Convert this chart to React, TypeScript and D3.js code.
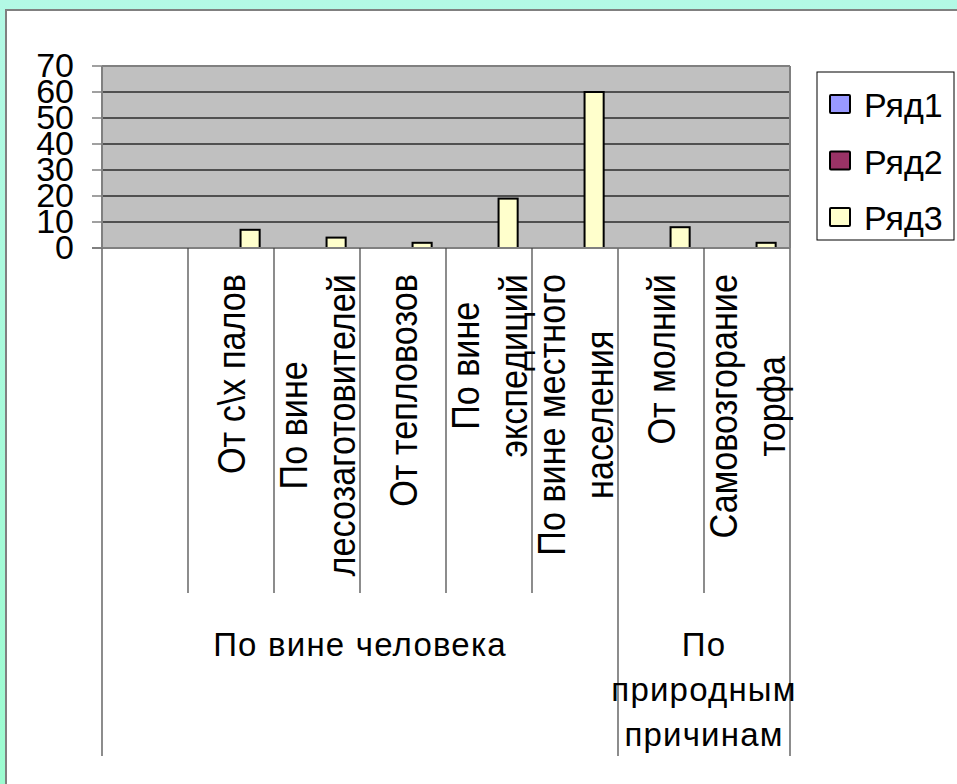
import React from "react";
import * as d3 from "d3";

const categoryLabels: string[][] = [
  [""],
  ["От с\\х палов"],
  ["По вине", "лесозаготовителей"],
  ["От тепловозов"],
  ["По вине", "экспедиций"],
  ["По вине местного", "населения"],
  ["От молний"],
  ["Самовозгорание", "торфа"],
];
const groupLabels: string[][] = [["По вине человека"], ["По", "природным", "причинам"]];
const groupSizes: number[] = [6, 2];

const seriesNames: string[] = ["Ряд1", "Ряд2", "Ряд3"];
const seriesColors: string[] = ["#9999ff", "#993366", "#ffffcc"];
const series1: (number | null)[] = [null, null, null, null, null, null, null, null];
const series2: (number | null)[] = [null, null, null, null, null, null, null, null];
const series3: (number | null)[] = [null, 7, 4, 2, 19, 60, 8, 2];
const yTicks: number[] = [0, 10, 20, 30, 40, 50, 60, 70];

const W = 957;
const H = 784;
const FONT = "'Liberation Sans', Arial, sans-serif";

let ctx: CanvasRenderingContext2D | null = null;
function measure(text: string, size: number): number {
  if (!ctx) {
    const c = document.createElement("canvas");
    ctx = c.getContext("2d");
  }
  if (!ctx) return text.length * size * 0.55;
  ctx.font = `${size}px ${FONT}`;
  return ctx.measureText(text).width;
}

export default function App() {
  const plot = { left: 102, right: 790, top: 66, bottom: 248 };
  const catIdx = categoryLabels.map((_, i) => i);
  const x = d3.scaleBand<number>().domain(catIdx).range([plot.left, plot.right]).padding(0);
  const bw = x.bandwidth();
  const gap = (bw * 1.5) / 4.5;
  const x1 = d3.scaleBand<number>().domain([0, 1, 2]).range([gap / 2, bw - gap / 2]).padding(0);
  const y = d3.scaleLinear().domain([0, 70]).range([plot.bottom, plot.top]);
  const allSeries = [series1, series2, series3];

  const innerBottom = 593;
  const outerBottom = 756;
  const labelTop = 274;
  const rotSize = 38;
  const rotSquash = 0.9;
  const rotLineGap = 48;

  const groupStarts: number[] = [];
  let acc = 0;
  groupSizes.forEach((s) => {
    groupStarts.push(acc);
    acc += s;
  });
  const groupBoundaryIdx = new Set<number>([...groupStarts, acc]);
  const boundaries = d3.range(categoryLabels.length + 1);

  const legendRows = seriesNames.map((n, i) => ({ n, c: seriesColors[i], cy: 104 + i * 56.5 }));

  return (
    <svg
      width={W}
      height={H}
      style={{ position: "absolute", left: 0, top: 0 }}
      fontFamily={FONT}
    >
      <defs>
        <linearGradient id="bg" x1="0" y1="0" x2="0" y2="1">
          <stop offset="0" stopColor="#b3f9e5" />
          <stop offset="1" stopColor="#9cfcd0" />
        </linearGradient>
      </defs>
      <rect x={0} y={0} width={W} height={H} fill="url(#bg)" />
      <rect x={6} y={10} width={W} height={H} fill="#ffffff" stroke="#808080" strokeWidth={2} />

      {/* plot area */}
      <rect
        x={plot.left}
        y={plot.top}
        width={plot.right - plot.left}
        height={plot.bottom - plot.top}
        fill="#c0c0c0"
      />
      {yTicks
        .filter((t) => t > 0 && t < 70)
        .map((t) => (
          <line
            key={"g" + t}
            x1={plot.left}
            x2={plot.right}
            y1={y(t)}
            y2={y(t)}
            stroke="#2b2b2b"
            strokeWidth={1.4}
          />
        ))}
      <line x1={plot.left} x2={plot.right} y1={plot.top} y2={plot.top} stroke="#808080" strokeWidth={2} />
      <line x1={plot.right} x2={plot.right} y1={plot.top} y2={plot.bottom} stroke="#808080" strokeWidth={2} />

      {/* bars */}
      {allSeries.map((vals, si) =>
        vals.map((v, ci) =>
          v == null ? null : (
            <rect
              key={`b${si}-${ci}`}
              x={(x(ci) as number) + (x1(si) as number)}
              y={y(v)}
              width={x1.bandwidth()}
              height={y(0) - y(v)}
              fill={seriesColors[si]}
              stroke="#000"
              strokeWidth={2}
            />
          )
        )
      )}

      {/* y axis */}
      <line x1={plot.left} x2={plot.left} y1={plot.top} y2={plot.bottom} stroke="#808080" strokeWidth={2} />
      {yTicks.map((t) => (
        <g key={"t" + t}>
          <line x1={plot.left - 10} x2={plot.left} y1={y(t)} y2={y(t)} stroke="#808080" strokeWidth={1.5} />
          <text x={74} y={y(t) + 10.5} textAnchor="end" fontSize={34} fill="#000">
            {t}
          </text>
        </g>
      ))}
      <line x1={plot.left - 10} x2={plot.right} y1={plot.bottom} y2={plot.bottom} stroke="#808080" strokeWidth={2} />

      {/* category dividers */}
      {boundaries.map((b) => {
        const bx = b < categoryLabels.length ? (x(b) as number) : plot.right;
        const outer = groupBoundaryIdx.has(b);
        return (
          <line
            key={"d" + b}
            x1={bx}
            x2={bx}
            y1={plot.bottom}
            y2={outer ? outerBottom : innerBottom}
            stroke={outer ? "#707070" : "#404040"}
            strokeWidth={outer ? 1.6 : 1.2}
          />
        );
      })}

      {/* rotated category labels */}
      {categoryLabels.map((lines, ci) => {
        const cx = (x(ci) as number) + bw / 2;
        const maxLen = (d3.max(lines, (l) => measure(l, rotSize)) || 0) * rotSquash;
        const cy = labelTop + maxLen / 2;
        return lines.map((l, li) => {
          const lineCenter = cx + (li - (lines.length - 1) / 2) * rotLineGap;
          const bx = lineCenter + 14;
          return (
            <text
              key={`c${ci}-${li}`}
              transform={`translate(${bx},${cy}) rotate(-90) scale(${rotSquash},1)`}
              textAnchor="middle"
              fontSize={rotSize}
              fill="#000"
            >
              {l}
            </text>
          );
        });
      })}

      {/* group labels */}
      {groupLabels.map((lines, gi) => {
        const start = groupStarts[gi];
        const end = start + groupSizes[gi];
        const x0 = x(start) as number;
        const x1e = end < categoryLabels.length ? (x(end) as number) : plot.right;
        const gx = (x0 + x1e) / 2;
        return lines.map((l, li) => (
          <text
            key={`gl${gi}-${li}`}
            x={gx}
            y={656 + li * 45}
            textAnchor="middle"
            fontSize={33}
            letterSpacing={1.2}
            fill="#000"
          >
            {l}
          </text>
        ));
      })}

      {/* legend */}
      <rect x={817} y={72} width={137} height={168} fill="#fff" stroke="#000" strokeWidth={1} />
      {legendRows.map((r) => (
        <g key={r.n}>
          <rect x={830} y={r.cy - 9} width={20} height={18} fill={r.c} stroke="#000" strokeWidth={2} rx={1} />
          <text x={864} y={r.cy + 13} fontSize={34} fill="#000">
            {r.n}
          </text>
        </g>
      ))}
    </svg>
  );
}
